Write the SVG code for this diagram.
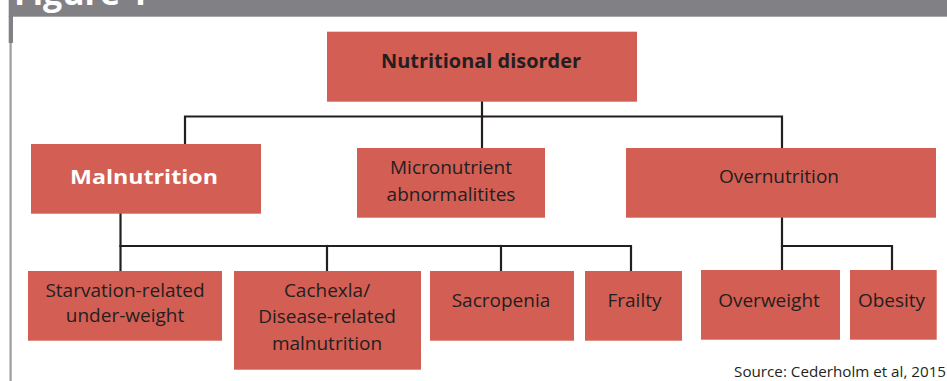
<svg xmlns="http://www.w3.org/2000/svg" width="947" height="381" viewBox="0 0 947 381">
  <style>
    .box { fill: #d35e53; }
    .t { font-family: "Open Sans", "Liberation Sans", sans-serif; font-size: 19px; fill: #231f20; text-anchor: middle; }
    .b { font-weight: 700; }
    .w { fill: #ffffff; }
    .conn { fill: none; stroke: #231f20; stroke-width: 2.2; stroke-linejoin: miter; stroke-linecap: square; }
  </style>
  <rect width="947" height="381" fill="#ffffff"/>
  <!-- frame -->
  <g id="frame">
    <rect x="8.7" y="0" width="938.3" height="16.7" fill="#818185"/>
    <rect x="8.7" y="16" width="4.3" height="27" fill="#818185"/>
    <line x1="10.6" y1="43" x2="10.6" y2="381" stroke="#9c9c9e" stroke-width="2.2"/>
    <text x="14" y="4.5" font-family="Open Sans, Liberation Sans, sans-serif" font-weight="700" font-size="34" fill="#ffffff">Figure 1</text>
  </g>
  <!-- connectors -->
  <g id="connectors" class="conn">
    <path d="M482 101.7 V116.5"/>
    <path d="M185 144 V116.5 H782 V148"/>
    <path d="M482 116.5 V148"/>
    <path d="M120.5 213.7 V271"/>
    <path d="M120.5 246 H631 V271"/>
    <path d="M327 246 V271"/>
    <path d="M501 246 V271"/>
    <path d="M782 217.7 V270"/>
    <path d="M782 246 H892 V270"/>
  </g>
  <g id="n-nutritional-disorder">
    <rect class="box" x="327" y="31.7" width="310" height="70"/>
    <text class="t b" x="481" y="68.3" font-size="21.5" textLength="200" lengthAdjust="spacingAndGlyphs">Nutritional disorder</text>
  </g>
  <g id="n-malnutrition">
    <rect class="box" x="31" y="144" width="230" height="69.7"/>
    <text class="t b w" x="144" y="184.3" font-size="25" textLength="148" lengthAdjust="spacingAndGlyphs">Malnutrition</text>
  </g>
  <g id="n-micronutrient">
    <rect class="box" x="357" y="148" width="188" height="69.7"/>
    <text class="t" x="451" y="174">Micronutrient</text>
    <text class="t" x="451" y="200.7">abnormalitites</text>
  </g>
  <g id="n-overnutrition">
    <rect class="box" x="626" y="148" width="310" height="69.7"/>
    <text class="t" x="779" y="183.3">Overnutrition</text>
  </g>
  <g id="n-starvation">
    <rect class="box" x="28" y="271" width="194" height="69.7"/>
    <text class="t" x="125" y="296.7">Starvation-related</text>
    <text class="t" x="125" y="322">under-weight</text>
  </g>
  <g id="n-cachexia">
    <rect class="box" x="234" y="271" width="187" height="98.7"/>
    <text class="t" x="327" y="296.7">Cachexla/</text>
    <text class="t" x="327" y="322.5">Disease-related</text>
    <text class="t" x="327" y="349.5">malnutrition</text>
  </g>
  <g id="n-sacropenia">
    <rect class="box" x="430" y="271" width="144" height="69.7"/>
    <text class="t" x="501" y="306.7">Sacropenia</text>
  </g>
  <g id="n-frailty">
    <rect class="box" x="585" y="271" width="97" height="69.7"/>
    <text class="t" x="634.5" y="307">Frailty</text>
  </g>
  <g id="n-overweight">
    <rect class="box" x="701" y="270" width="139" height="69.7"/>
    <text class="t" x="769" y="307">Overweight</text>
  </g>
  <g id="n-obesity">
    <rect class="box" x="850" y="270" width="86.7" height="69.7"/>
    <text class="t" x="891.5" y="307">Obesity</text>
  </g>
  <text x="946" y="376.7" font-family="Open Sans, Liberation Sans, sans-serif" font-size="15.2" fill="#231f20" text-anchor="end">Source: Cederholm et al, 2015</text>
</svg>
